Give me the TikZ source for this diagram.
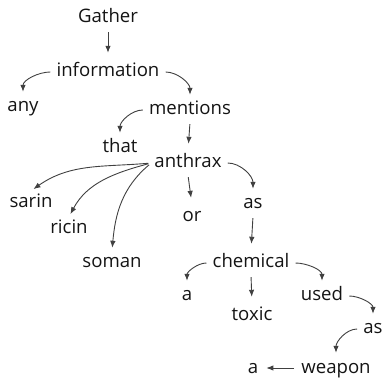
\documentclass[tikz,border=0pt]{standalone}
\usepackage{fontspec}
\setmainfont{Open Sans}
\usetikzlibrary{arrows.meta}
\begin{document}
\begin{tikzpicture}[x=1pt,y=1pt,
  w/.style={anchor=base, inner xsep=3pt, inner ysep=3pt, text height=14pt, text depth=4pt,
            font=\fontsize{18.6}{22}\selectfont, text=black!92},
  dep/.style={draw=black!75, line width=0.9pt, -{Latex[length=7pt,width=5.5pt]}},
  straight/.style={dep, shorten <=2pt, shorten >=7pt},
  curve/.style={dep, shorten <=3pt, shorten >=3pt}]
\useasboundingbox (0,0) rectangle (385,377);
% words
\node[w] (gather) at (108,354) {Gather};
\node[w] (information) at (108,300) {information};
\node[w] (any) at (23,265) {any};
\node[w] (mentions) at (190,262) {mentions};
\node[w] (that) at (120,224) {that};
\node[w] (anthrax) at (188,209) {anthrax};
\node[w] (sarin) at (31,169) {sarin};
\node[w] (ricin) at (69,143) {ricin};
\node[w] (soman) at (112,109) {soman};
\node[w] (or) at (192,155) {or};
\node[w] (as1) at (253,168) {as};
\node[w] (chemical) at (251,109) {chemical};
\node[w] (a1) at (187,76) {a};
\node[w] (toxic) at (252,56) {toxic};
\node[w] (used) at (322,76) {used};
\node[w] (as2) at (373,43) {as};
\node[w] (weapon) at (336,4) {weapon};
\node[w] (a2) at (253,4) {a};
% dependencies
\draw[straight] (gather.south) -- (information.north);
\draw[curve] (information.west) to[out=180,in=90] (any.north);
\draw[curve] (information.east) to[out=0,in=90] (mentions.north);
\draw[curve] (mentions.west) to[out=180,in=90] (that.north);
\draw[straight] (mentions.south) -- (anthrax.north);
\draw[curve] (anthrax.west) to[out=185,in=35] (sarin.north);
\draw[curve] (anthrax.west) to[out=195,in=62] (ricin.north);
\draw[curve] (anthrax.west) to[out=220,in=85] (soman.north);
\draw[straight] (anthrax.south) -- (or.north);
\draw[curve] (anthrax.east) to[out=0,in=90] (as1.north);
\draw[straight] (as1.south) -- (chemical.north);
\draw[curve] (chemical.west) to[out=180,in=90] (a1.north);
\draw[straight] (chemical.south) -- (toxic.north);
\draw[curve] (chemical.east) to[out=0,in=90] (used.north);
\draw[curve] (used.east) to[out=0,in=90] (as2.north);
\draw[curve] (as2.west) to[out=180,in=90] (weapon.north);
\draw[dep, shorten <=4pt, shorten >=5pt] (weapon.west) -- (a2.east);
\end{tikzpicture}
\end{document}
